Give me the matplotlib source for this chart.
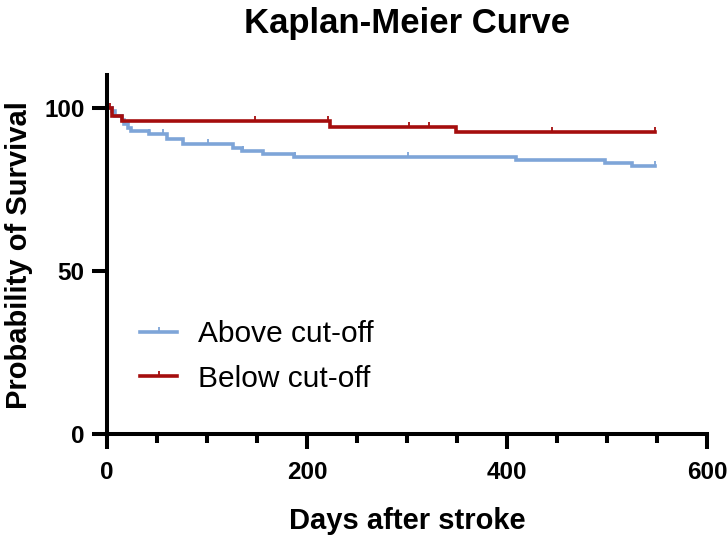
import numpy as np
import matplotlib.pyplot as plt
from matplotlib.lines import Line2D
from matplotlib.ticker import MultipleLocator

plt.rcParams['font.family'] = ['Liberation Sans', 'DejaVu Sans']

# Kaplan-Meier steps (days, % surviving)
above_t = [0, 5, 8, 15, 17, 21, 24, 42, 60, 76, 126, 135, 156, 187, 409, 498, 525, 548]
above_s = [100, 99.0, 97.4, 96.1, 95.0, 93.9, 92.8, 91.8, 90.3, 88.9, 87.8, 86.8, 85.7, 84.8, 84.1, 83.1, 82.2, 82.2]
above_cens = [6, 42, 56, 101, 136, 188, 301, 548]

below_t = [0, 5, 15, 223, 349, 548]
below_s = [100, 97.5, 95.8, 94.2, 92.6, 92.6]
below_cens = [3, 148, 221, 302, 322, 445, 548]

blue = '#7ea5d8'
red = '#a50d0d'


def surv_at(t, s, times):
    idx = np.searchsorted(t, times, side='right') - 1
    return np.array(s)[idx]


fig = plt.figure(figsize=(7.27, 5.36), dpi=100)
ax = fig.add_axes([0.147, 0.190, 0.8255, 0.670])

for t, s, c, col in [(above_t, above_s, above_cens, blue), (below_t, below_s, below_cens, red)]:
    ax.step(t, s, where='post', color=col, lw=2.6, solid_joinstyle='miter')
    ax.plot(c, surv_at(t, s, c), ls='none', marker=2, ms=3.5, mew=1.3, color=col)

ax.set_xlim(0, 600)
ax.set_ylim(0, 110)
ax.set_xticks([0, 200, 400, 600])
ax.xaxis.set_minor_locator(MultipleLocator(50))
ax.set_yticks([0, 50, 100])

for side in ['top', 'right']:
    ax.spines[side].set_visible(False)
for side in ['left', 'bottom']:
    ax.spines[side].set_linewidth(2.9)
    ax.spines[side].set_capstyle('projecting')

ax.tick_params(axis='both', which='major', width=2.9, length=11, labelsize=17.5, pad=5)
ax.tick_params(axis='x', which='major', pad=8)
ax.tick_params(axis='x', which='minor', width=2.9, length=6.5)
for lab in ax.get_xticklabels() + ax.get_yticklabels():
    lab.set_fontweight('bold')

ax.set_title('Kaplan-Meier Curve', fontsize=25, fontweight='bold', pad=30)
ax.set_xlabel('Days after stroke', fontsize=21, fontweight='bold', labelpad=17)
ax.set_ylabel('Probability of Survival', fontsize=21, fontweight='bold', labelpad=8)

handles = [Line2D([], [], color=blue, lw=2.6, marker=2, ms=3.5, mew=1.3),
           Line2D([], [], color=red, lw=2.6, marker=2, ms=3.5, mew=1.3)]
ax.legend(handles, ['Above cut-off', 'Below cut-off'], loc='center left',
          bbox_to_anchor=(0.055, 0.216), frameon=False, fontsize=21.5,
          handlelength=1.25, handletextpad=0.7, labelspacing=0.55,
          borderpad=0, borderaxespad=0)

fig.savefig('out.png', dpi=100)
